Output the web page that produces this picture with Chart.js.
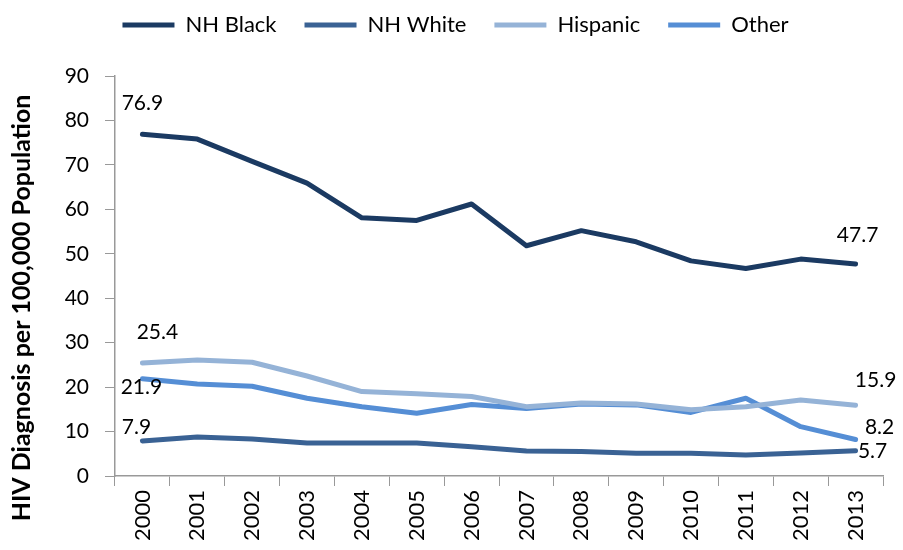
<!DOCTYPE html>
<html><head><meta charset="utf-8">
<script src="https://cdn.jsdelivr.net/npm/chart.js@4.4.1/dist/chart.umd.min.js"></script>
<style>html,body{margin:0;padding:0;background:#fff}#wrap{width:903px;height:550px}</style>
</head><body><div id="wrap"><canvas id="c" width="903" height="550"></canvas></div>
<script>
const years = ['2000','2001','2002','2003','2004','2005','2006','2007','2008','2009','2010','2011','2012','2013'];
const nhBlack = [76.9,75.8,70.8,65.9,58.1,57.5,61.2,51.8,55.2,52.7,48.4,46.7,48.8,47.7];
const nhWhite = [7.9,8.8,8.3,7.4,7.4,7.4,6.6,5.6,5.5,5.1,5.1,4.7,5.2,5.7];
const hispanic = [25.4,26.1,25.6,22.5,19.0,18.5,17.9,15.6,16.4,16.2,14.9,15.6,17.1,15.9];
const other = [21.9,20.7,20.2,17.5,15.6,14.1,16.1,15.2,16.2,16.0,14.3,17.5,11.1,8.2];
const yTicks = [0,10,20,30,40,50,60,70,80,90];
const seriesNames = ['NH Black','NH White','Hispanic','Other'];
const yTitle = 'HIV Diagnosis per 100,000 Population';
const colors = ['#1B3A62','#3A6294','#95B3D7','#558ED5'];
// labelled points: [dataset, index, dx, dy]
const pointLabels = [
  [0,0,0,-31],[0,13,2,-29],
  [2,0,15,-31],[3,0,-1,9],[1,0,-6,-14],
  [2,13,20,-25],[3,13,24,-12],[1,13,17,1]
];
const FONT = "Lato, 'Open Sans', sans-serif";

const extras = {
  id:'extras',
  beforeInit(chart){
    const lg = chart.legend;
    const fit = lg.fit;
    lg.fit = function(){ fit.call(this); this.height += 16; };
  },
  afterLayout(chart){
    const lg = chart.legend;
    lg.left += 14; lg.right += 14;
    lg.top -= 14; lg.bottom -= 14;
  },
  afterDatasetsDraw(chart){
    const ctx = chart.ctx;
    ctx.save();
    ctx.font = "21px " + FONT;
    ctx.fillStyle = '#000';
    ctx.textAlign = 'center';
    ctx.textBaseline = 'middle';
    pointLabels.forEach(([d,i,dx,dy])=>{
      const el = chart.getDatasetMeta(d).data[i];
      const v = chart.data.datasets[d].data[i];
      ctx.fillText(v.toFixed(1), el.x+dx, el.y+dy);
    });
    ctx.translate(22, 308);
    ctx.rotate(-Math.PI/2);
    ctx.font = "bold 25px " + FONT;
    ctx.fillText(yTitle, 0, 0);
    ctx.restore();
  }
};

const data = [nhBlack,nhWhite,hispanic,other];
new Chart(document.getElementById('c'),{
  type:'line',
  data:{labels:years,datasets:data.map((d,k)=>({
    label:seriesNames[k],data:d,borderColor:colors[k],backgroundColor:colors[k],
    borderWidth:5,pointRadius:0,tension:0,borderCapStyle:'round',borderJoinStyle:'round'
  }))},
  options:{
    responsive:false,animation:false,
    layout:{padding:{left:0,right:20,top:0,bottom:0}},
    plugins:{
      legend:{position:'top',labels:{usePointStyle:true,pointStyle:'line',pointStyleWidth:52,
        font:{family:FONT,size:22},color:'#000',padding:28,boxHeight:22},
        onClick:null},
      tooltip:{enabled:false}
    },
    scales:{
      x:{offset:true,
        grid:{display:true,drawOnChartArea:false,offset:true,tickLength:10,color:'#999'},
        border:{color:'#999',width:1.5},
        ticks:{font:{family:FONT,size:22},color:'#000',maxRotation:90,minRotation:90,autoSkip:false,padding:4},
        afterFit(s){s.height=74;}
      },
      y:{min:0,max:90,
        afterBuildTicks(s){s.ticks=yTicks.map(v=>({value:v}));},
        grid:{display:true,drawOnChartArea:false,tickLength:10,color:'#999'},
        border:{color:'#999',width:1.5},
        ticks:{font:{family:FONT,size:21},color:'#000',padding:16},
        afterFit(s){s.width=115;}
      }
    }
  },
  plugins:[extras]
});
</script></body></html>
